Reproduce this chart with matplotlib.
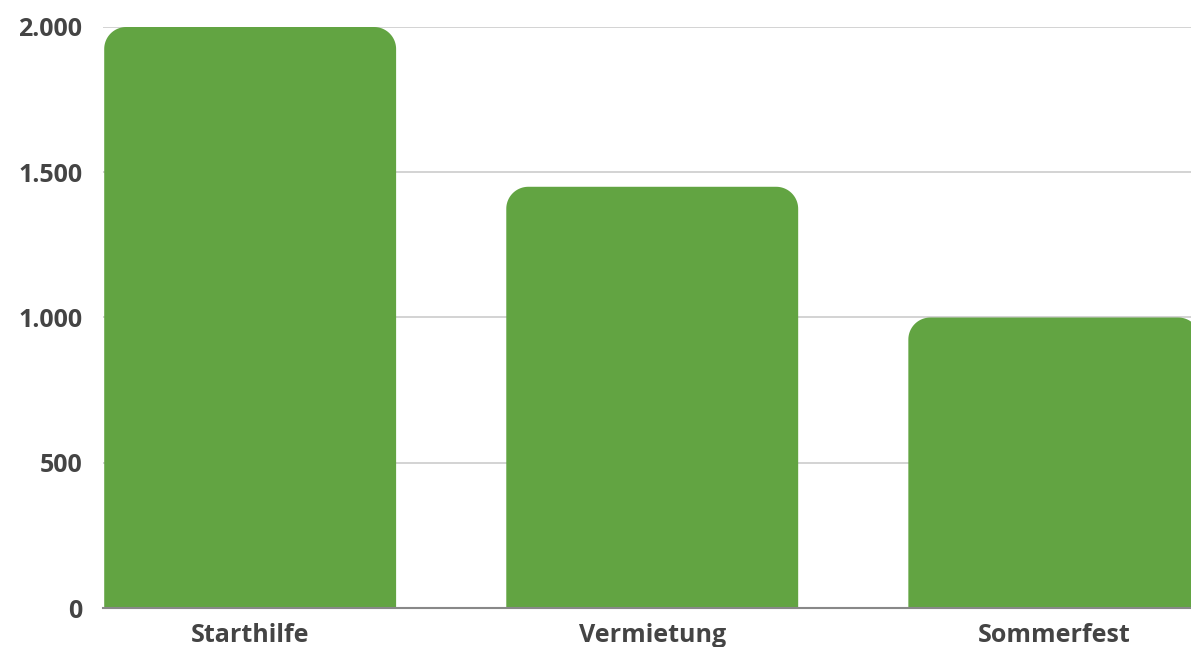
import numpy as np
import matplotlib
matplotlib.use("Agg")
import matplotlib.pyplot as plt
from matplotlib.patches import PathPatch
from matplotlib.path import Path

categories = ["Starthilfe", "Vermietung", "Sommerfest"]
values = [2000, 1450, 1000]
yticks = [0, 500, 1000, 1500, 2000]
ytick_labels = ["0", "500", "1.000", "1.500", "2.000"]

BAR_COLOR = "#62a442"
TEXT_COLOR = "#444444"

plt.rcParams['font.family'] = ['Open Sans', 'DejaVu Sans']

W, H = 1191, 647
fig = plt.figure(figsize=(W / 100, H / 100), dpi=100)
ax = fig.add_axes([103 / W, 39 / H, (W - 103) / W, (608 - 27) / H])

x = np.arange(len(categories))
bars = ax.bar(x, values, width=0.726, color=BAR_COLOR, zorder=2)
ax.set_xlim(-0.366, 2.34)
ax.set_ylim(0, 2000)


def top_rounded(x0, w, h, rx, ry, n=24):
    # outline of a bar with only its two top corners rounded
    a = np.linspace(0, np.pi / 2, n)
    right = np.column_stack([x0 + w - rx + rx * np.cos(a), h - ry + ry * np.sin(a)])
    a = np.linspace(np.pi / 2, np.pi, n)
    left = np.column_stack([x0 + rx + rx * np.cos(a), h - ry + ry * np.sin(a)])
    verts = np.vstack([[(x0, 0), (x0 + w, 0)], right, left, [(x0, 0)]])
    return Path(verts, closed=True)


radius_px = 22
x_per_px = (ax.get_xlim()[1] - ax.get_xlim()[0]) / (W - 103)
y_per_px = 2000 / (608 - 27)
for b in bars:
    bx, bw, bh = b.get_x(), b.get_width(), b.get_height()
    b.set_visible(False)
    path = top_rounded(bx, bw, bh, radius_px * x_per_px, radius_px * y_per_px)
    ax.add_patch(PathPatch(path, facecolor=BAR_COLOR, edgecolor="none", zorder=2))

ax.set_yticks(yticks)
ax.set_yticklabels(ytick_labels)
ax.set_xticks(x)
ax.set_xticklabels(categories)
ax.yaxis.grid(True, color="#cccccc", linewidth=1.2, zorder=0)
ax.set_axisbelow(True)
for s in ["top", "right", "left"]:
    ax.spines[s].set_visible(False)
ax.spines["bottom"].set_color("#888888")
ax.spines["bottom"].set_linewidth(1.5)
ax.spines["bottom"].set_zorder(3)
ax.tick_params(axis="both", length=0, labelsize=18, labelcolor=TEXT_COLOR)
ax.tick_params(axis="y", pad=15)
ax.tick_params(axis="x", pad=11)
for lab in ax.get_xticklabels() + ax.get_yticklabels():
    lab.set_fontweight("bold")

fig.savefig("out.png", dpi=100)
